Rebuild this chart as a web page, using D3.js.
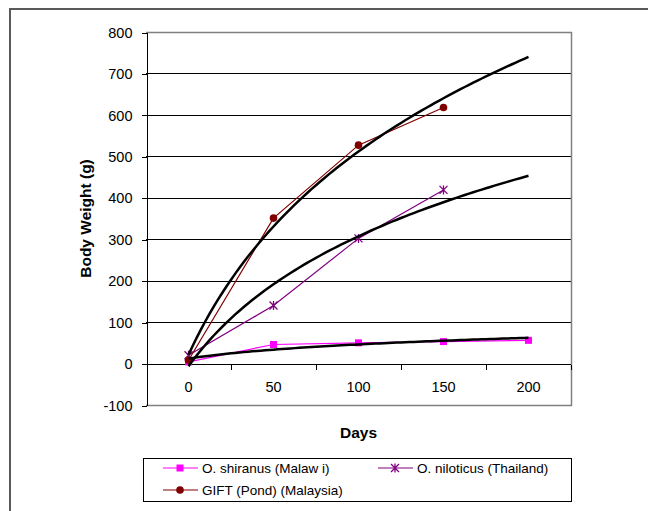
<!DOCTYPE html>
<html>
<head>
<meta charset="utf-8">
<script src="https://d3js.org/d3.v7.min.js"></script>
<style>
body { margin: 0; background: #fff; }
svg { font-family: "Liberation Sans", Arial, sans-serif; }
.axis path, .axis line { stroke: #000; shape-rendering: crispEdges; }
.axis text { font-size: 14.5px; fill: #000; }
</style>
</head>
<body>
<svg id="chart" width="648" height="511"></svg>
<script>
// categories (days) and series
var days = [0, 50, 100, 150, 200]
var shiranus = [4, 46, 50, 53, 56]
var niloticus = [20, 140, 302, 419]
var gift = [8, 351, 527, 618]
var yTicks = [-100, 0, 100, 200, 300, 400, 500, 600, 700, 800]

var series = [
    {name: "O. shiranus (Malaw i)", values: shiranus, color: "#ff00ff", marker: "square"},
    {name: "O. niloticus (Thailand)", values: niloticus, color: "#800080", marker: "star"},
    {name: "GIFT (Pond) (Malaysia)", values: gift, color: "#800000", marker: "circle"}
]

var svg = d3.select("#chart")
var plotLeft = 146, plotRight = 571, plotTop = 32, plotBottom = 405

// outer chart frame
svg.append("rect")
    .attr("x", 10).attr("y", 9)
    .attr("width", 660).attr("height", 520)
    .attr("fill", "none")
    .attr("stroke", "#5a5a5a")
    .attr("stroke-width", 2)

var x = d3.scaleBand().domain(days.map(String)).range([plotLeft, plotRight])
// continuous position by category index, for the trend lines
var xi = d3.scaleLinear().domain([-0.5, days.length - 0.5]).range([plotLeft, plotRight])
var y = d3.scaleLinear().domain([-100, 800]).range([plotBottom, plotTop])

// grid lines
svg.append("g").selectAll("line")
    .data(yTicks.filter(function(d) { return d > -100 && d < 800 }))
    .join("line")
    .attr("x1", plotLeft).attr("x2", plotRight)
    .attr("y1", function(d) { return Math.round(y(d)) + 0.5 })
    .attr("y2", function(d) { return Math.round(y(d)) + 0.5 })
    .attr("stroke", "#000")
    .attr("stroke-width", 1)

// plot area border (top, right, bottom)
svg.append("path")
    .attr("d", "M" + plotLeft + "," + (plotTop + 0.5) + "H" + (plotRight + 0.5) + "V" + (plotBottom + 0.5) + "H" + plotLeft)
    .attr("fill", "none")
    .attr("stroke", "#808080")
    .attr("stroke-width", 1.5)

// y axis
svg.append("g")
    .attr("class", "axis")
    .attr("transform", "translate(" + (plotLeft + 0.5) + ",0.5)")
    .call(d3.axisLeft(y).tickValues(yTicks).tickFormat(function(d) { return String(d) })
        .tickSize(5).tickPadding(9).tickSizeOuter(0))

// x axis at zero
var zeroY = Math.round(y(0)) + 0.5
var xAxis = svg.append("g")
    .attr("class", "axis")
    .attr("transform", "translate(0," + zeroY + ")")
    .call(d3.axisBottom(x).tickSize(0).tickPadding(17).tickSizeOuter(0))
xAxis.select(".domain").attr("d", "M" + plotLeft + ",0H" + plotRight)
// ticks sit between categories
xAxis.selectAll(".sep")
    .data(days.slice(1).concat(["end"]))
    .join("line")
    .attr("class", "sep")
    .attr("x1", function(d) { return d === "end" ? plotRight + 0.5 : Math.round(x(String(d))) + 0.5 })
    .attr("x2", function(d) { return d === "end" ? plotRight + 0.5 : Math.round(x(String(d))) + 0.5 })
    .attr("y1", 0).attr("y2", 5)

// axis titles
svg.append("text")
    .attr("x", (plotLeft + plotRight) / 2).attr("y", 438)
    .attr("text-anchor", "middle")
    .attr("font-size", "15.5px").attr("font-weight", "bold")
    .text("Days")
svg.append("text")
    .attr("transform", "translate(91," + ((plotTop + plotBottom) / 2) + ") rotate(-90)")
    .attr("text-anchor", "middle")
    .attr("font-size", "15.5px").attr("font-weight", "bold")
    .text("Body Weight (g)")

// logarithmic trend line (least squares on category index 1..n), drawn over all categories
function logFit(vals) {
    var lx = vals.map(function(v, i) { return Math.log(i + 1) })
    var mx = d3.mean(lx), my = d3.mean(vals)
    var sxy = d3.sum(vals, function(v, i) { return (lx[i] - mx) * (v - my) })
    var sxx = d3.sum(lx, function(l) { return (l - mx) * (l - mx) })
    var a = sxy / sxx
    var b = my - a * mx
    return function(i) { return a * Math.log(i + 1) + b }
}

function markerPath(type, cx, cy) {
    if (type === "square") {
        return "M" + (cx - 3.5) + "," + (cy - 3.5) + "h7v7h-7z"
    }
    var s = 4
    return "M" + (cx - s) + "," + (cy - s) + "L" + (cx + s) + "," + (cy + s) +
        "M" + (cx - s) + "," + (cy + s) + "L" + (cx + s) + "," + (cy - s) +
        "M" + cx + "," + (cy - s - 0.5) + "L" + cx + "," + (cy + s + 0.5)
}

function drawMarker(g, s, cx, cy) {
    if (s.marker === "circle") {
        g.append("circle").attr("cx", cx).attr("cy", cy).attr("r", 3.8).attr("fill", s.color)
    } else if (s.marker === "square") {
        g.append("path").attr("d", markerPath("square", cx, cy)).attr("fill", s.color)
    } else {
        g.append("path").attr("d", markerPath("star", cx, cy))
            .attr("stroke", s.color).attr("stroke-width", 1.3).attr("fill", "none")
    }
}

var line = d3.line()
    .x(function(d, i) { return x(String(days[i])) + x.bandwidth() / 2 })
    .y(function(d) { return y(d) })

var plot = svg.append("g")
series.forEach(function(s) {
    plot.append("path")
        .attr("d", line(s.values))
        .attr("fill", "none")
        .attr("stroke", s.color)
        .attr("stroke-width", 1.2)
    s.values.forEach(function(v, i) {
        drawMarker(plot, s, x(String(days[i])) + x.bandwidth() / 2, y(v))
    })
})

// trend lines on top
var trend = d3.line()
    .x(function(d) { return xi(d[0]) })
    .y(function(d) { return y(d[1]) })
series.forEach(function(s) {
    var f = logFit(s.values)
    var pts = d3.range(0, days.length - 1 + 0.0001, 0.05).map(function(t) { return [t, f(t)] })
    plot.append("path")
        .attr("d", trend(pts))
        .attr("fill", "none")
        .attr("stroke", "#000")
        .attr("stroke-width", 2.5)
})

// legend
var lg = svg.append("g")
lg.append("rect")
    .attr("x", 143.5).attr("y", 458.5)
    .attr("width", 428).attr("height", 43)
    .attr("fill", "#fff").attr("stroke", "#000").attr("stroke-width", 1)
var legendPos = [[163, 468], [378, 468], [163, 490]]
series.forEach(function(s, k) {
    var p = legendPos[k]
    lg.append("line")
        .attr("x1", p[0]).attr("x2", p[0] + 35)
        .attr("y1", p[1]).attr("y2", p[1])
        .attr("stroke", s.color).attr("stroke-width", 1.2)
    drawMarker(lg, s, p[0] + 17, p[1])
    lg.append("text")
        .attr("x", p[0] + 39).attr("y", p[1] + 4.5)
        .attr("font-size", "13.5px")
        .text(s.name)
})
</script>
</body>
</html>
